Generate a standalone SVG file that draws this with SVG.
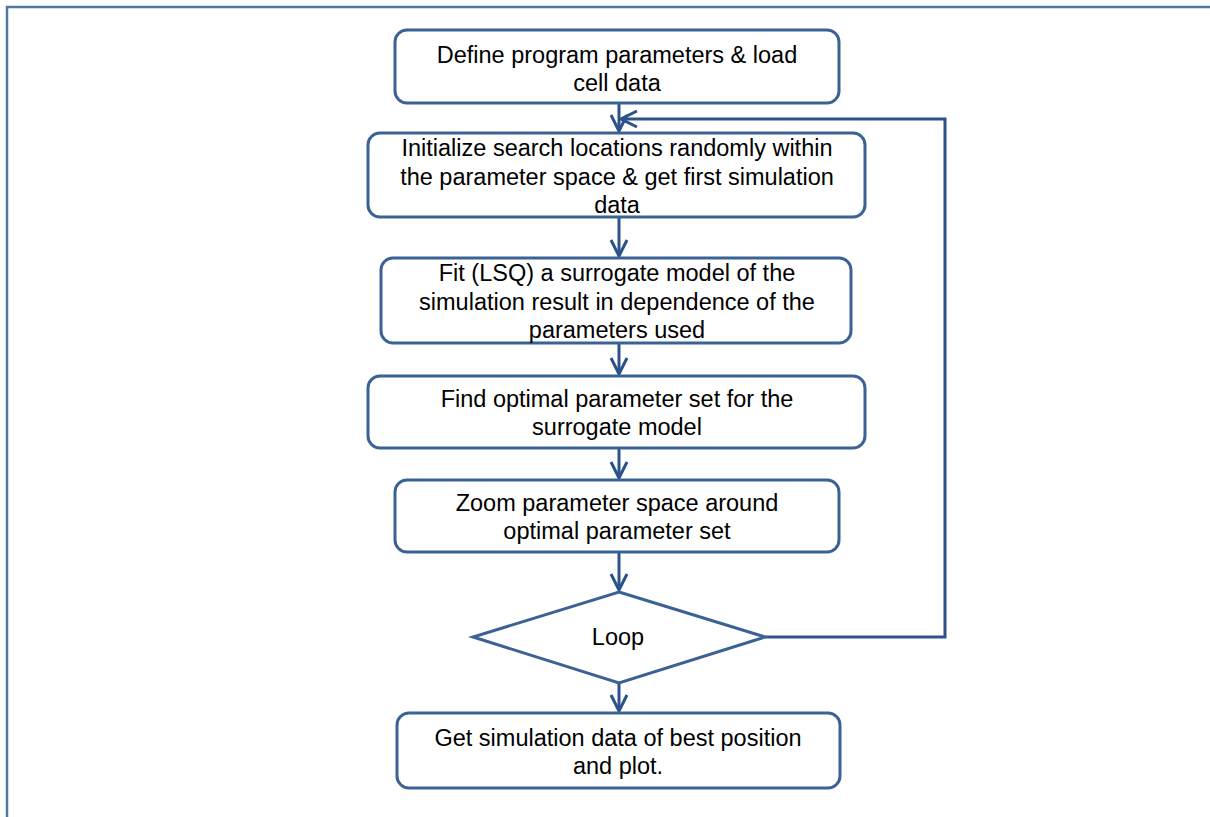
<svg xmlns="http://www.w3.org/2000/svg" width="1210" height="817" viewBox="0 0 1210 817">
<defs>
<style>
.box{fill:#fff;stroke:#3b6294;stroke-width:3}
.ln{fill:none;stroke:#2c5289;stroke-width:3}
.t{font-family:"Liberation Sans",Arial,sans-serif;font-size:23.5px;fill:#000;text-anchor:middle}
</style>
<marker id="ah" viewBox="0 0 20 20" refX="18" refY="10" markerWidth="20" markerHeight="20" markerUnits="userSpaceOnUse" orient="auto">
<path d="M2,2 L18,10 L2,18" fill="none" stroke="#2c5289" stroke-width="3"/>
</marker>
</defs>
<rect width="1210" height="817" fill="#fff"/>
<path d="M7,817 V7 H1210" fill="none" stroke="#5277a6" stroke-width="2.5"/>
<g id="connectors">
<line class="ln" x1="619" y1="103" x2="619" y2="131" marker-end="url(#ah)"/>
<line class="ln" x1="619" y1="217" x2="619" y2="256" marker-end="url(#ah)"/>
<line class="ln" x1="619" y1="343" x2="619" y2="374" marker-end="url(#ah)"/>
<line class="ln" x1="619" y1="448" x2="619" y2="478" marker-end="url(#ah)"/>
<line class="ln" x1="619" y1="552" x2="619" y2="590" marker-end="url(#ah)"/>
<line class="ln" x1="619" y1="683" x2="619" y2="711" marker-end="url(#ah)"/>
<path class="ln" d="M765,637 H945 V119 H621" marker-end="url(#ah)"/>
</g>
<g id="n1"><rect class="box" x="395" y="30" width="444" height="73" rx="12"/>
<text class="t" x="617" y="63">Define program parameters &amp; load</text>
<text class="t" x="617" y="91">cell data</text></g>
<g id="n2"><rect class="box" x="368" y="133" width="497" height="84" rx="12"/>
<text class="t" x="617" y="156">Initialize search locations randomly within</text>
<text class="t" x="617" y="185">the parameter space &amp; get first simulation</text>
<text class="t" x="617" y="213">data</text></g>
<g id="n3"><rect class="box" x="381" y="258" width="470" height="85" rx="12"/>
<text class="t" x="617" y="281">Fit (LSQ) a surrogate model of the</text>
<text class="t" x="617" y="310">simulation result in dependence of the</text>
<text class="t" x="617" y="338">parameters used</text></g>
<g id="n4"><rect class="box" x="368" y="376" width="497" height="72" rx="12"/>
<text class="t" x="617" y="407">Find optimal parameter set for the</text>
<text class="t" x="617" y="435">surrogate model</text></g>
<g id="n5"><rect class="box" x="395" y="480" width="444" height="72" rx="12"/>
<text class="t" x="617" y="511">Zoom parameter space around</text>
<text class="t" x="617" y="539">optimal parameter set</text></g>
<g id="n6"><polygon class="box" points="619,592 765,637 619,683 473,637"/>
<text class="t" x="618" y="645">Loop</text></g>
<g id="n7"><rect class="box" x="397" y="713" width="443" height="75" rx="12"/>
<text class="t" x="618" y="746">Get simulation data of best position</text>
<text class="t" x="618" y="774">and plot.</text></g>
</svg>
